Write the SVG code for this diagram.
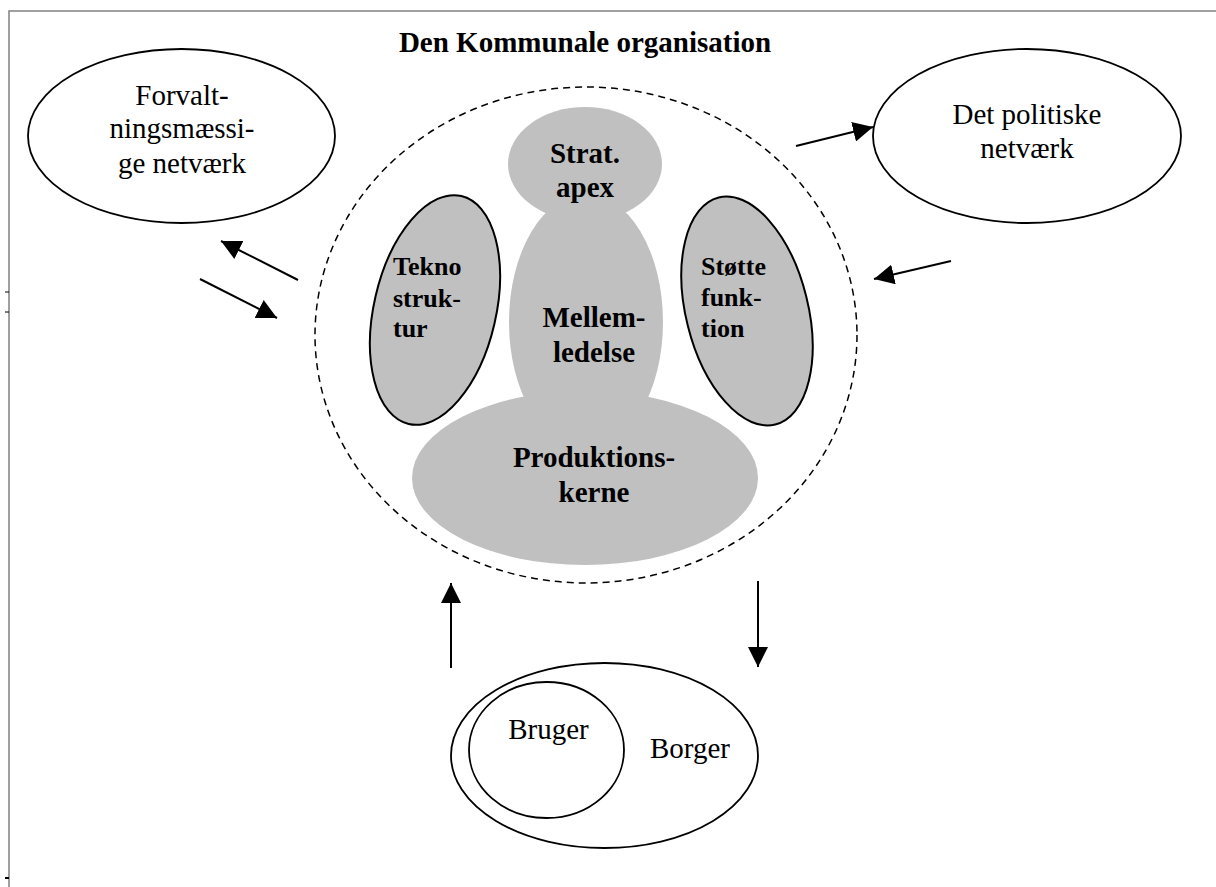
<svg xmlns="http://www.w3.org/2000/svg" width="1216" height="887" viewBox="0 0 1216 887">
  <defs>
    <marker id="arrow" viewBox="0 0 20 20" refX="20" refY="10" markerWidth="20" markerHeight="20" markerUnits="userSpaceOnUse" orient="auto">
      <path d="M0,0 L20,10 L0,20 z" fill="#000"/>
    </marker>
  </defs>
  <style>
    text { font-family: "Liberation Serif", "Times New Roman", serif; fill: #000; }
    .reg { font-size: 29px; text-anchor: middle; }
    .bold { font-size: 29px; font-weight: bold; text-anchor: middle; }
    .side { font-size: 26px; font-weight: bold; }
    .plain { fill: #fff; stroke: #000; stroke-width: 1.8; }
    .part { fill: #c0c0c0; }
    .lobe { fill: #c0c0c0; stroke: #000; stroke-width: 2; }
    .frame { stroke: #808080; stroke-width: 1.5; fill: none; }
    .link { stroke: #000; stroke-width: 2; fill: none; marker-end: url(#arrow); }
  </style>

  <rect width="1216" height="887" fill="#fff"/>

  <!-- page frame -->
  <g id="frame">
    <path class="frame" d="M9,887 V11 H1216"/>
    <path d="M5,292 H9 M5,312 H9" stroke="#000" stroke-width="1"/>
    <path d="M5,878 H9" stroke="#000" stroke-width="2"/>
  </g>

  <g id="title">
    <text class="bold" x="585" y="52">Den Kommunale organisation</text>
  </g>

  <!-- organisation boundary -->
  <g id="organisation">
    <ellipse cx="586" cy="335" rx="271" ry="248" fill="none" stroke="#000" stroke-width="1.5" stroke-dasharray="7 5"/>
  </g>

  <g id="strat-apex">
    <ellipse class="part" cx="585" cy="164" rx="77" ry="57"/>
  </g>

  <g id="mellemledelse">
    <ellipse class="part" cx="586" cy="322" rx="77" ry="128"/>
  </g>

  <g id="produktionskerne">
    <ellipse class="part" cx="585" cy="478" rx="173" ry="87"/>
    <text class="bold" x="594" y="467">Produktions-</text>
    <text class="bold" x="594" y="502">kerne</text>
  </g>

  <g id="strat-apex-label">
    <text class="bold" x="585" y="163">Strat.</text>
    <text class="bold" x="585" y="197">apex</text>
  </g>

  <g id="mellemledelse-label">
    <text class="bold" x="594" y="327">Mellem-</text>
    <text class="bold" x="594" y="362">ledelse</text>
  </g>

  <g id="teknostruktur">
    <ellipse class="lobe" cx="435" cy="310" rx="61" ry="117" transform="rotate(13 435 310)"/>
    <text class="side" x="393" y="275">Tekno</text>
    <text class="side" x="393" y="307">struk-</text>
    <text class="side" x="393" y="337">tur</text>
  </g>

  <g id="stottefunktion">
    <ellipse class="lobe" cx="747" cy="311" rx="61" ry="117" transform="rotate(-14 747 311)"/>
    <text class="side" x="701" y="275">Støtte</text>
    <text class="side" x="701" y="306">funk-</text>
    <text class="side" x="701" y="337">tion</text>
  </g>

  <g id="forvaltning">
    <ellipse class="plain" cx="181.5" cy="136" rx="153.5" ry="87"/>
    <text class="reg" x="182" y="105">Forvalt-</text>
    <text class="reg" x="182" y="138">ningsmæssi-</text>
    <text class="reg" x="182" y="173">ge netværk</text>
  </g>

  <g id="politisk">
    <ellipse class="plain" cx="1027" cy="136" rx="154" ry="87"/>
    <text class="reg" x="1027" y="124">Det politiske</text>
    <text class="reg" x="1027" y="158">netværk</text>
  </g>

  <g id="borger">
    <ellipse class="plain" cx="604.5" cy="755.5" rx="153.5" ry="92.5"/>
    <text class="reg" x="690" y="758">Borger</text>
  </g>

  <g id="bruger">
    <ellipse class="plain" cx="546.5" cy="750" rx="77.5" ry="68"/>
    <text class="reg" x="548.5" y="739">Bruger</text>
  </g>

  <g id="connectors">
    <line class="link" x1="796" y1="146" x2="873" y2="127"/>
    <line class="link" x1="951" y1="261" x2="874" y2="279"/>
    <line class="link" x1="298" y1="280" x2="221" y2="241"/>
    <line class="link" x1="200" y1="279" x2="277" y2="318"/>
    <line class="link" x1="451" y1="668" x2="451" y2="583"/>
    <line class="link" x1="758" y1="581" x2="758" y2="667"/>
  </g>
</svg>
